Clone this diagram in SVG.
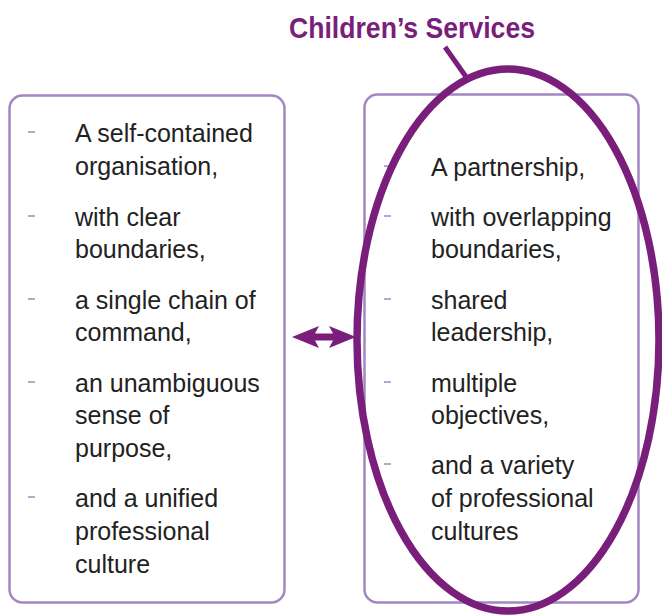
<svg xmlns="http://www.w3.org/2000/svg" width="662" height="615" viewBox="0 0 662 615">
<style>
.box{fill:#fff;stroke:#a386c2;stroke-width:2.5}
.t{font-family:"Liberation Sans",Arial,sans-serif;font-size:25px;fill:#222}
.d{stroke:#a386c2;stroke-width:1.5}
.title{font-family:"Liberation Sans",Arial,sans-serif;font-size:30px;font-weight:bold;fill:#7a1e7c}
</style>
<rect width="662" height="615" fill="#fff"/>
<g id="left">
<rect class="box" x="9.5" y="95.5" width="275" height="507" rx="13"/>
<g class="d"><line x1="28" y1="132" x2="35" y2="132"/><line x1="28" y1="216" x2="35" y2="216"/><line x1="28" y1="299" x2="35" y2="299"/><line x1="28" y1="382" x2="35" y2="382"/><line x1="28" y1="497" x2="35" y2="497"/></g>
<text class="t" x="75" y="142">A self-contained</text>
<text class="t" x="75" y="175">organisation,</text>
<text class="t" x="75" y="226">with clear</text>
<text class="t" x="75" y="258">boundaries,</text>
<text class="t" x="75" y="309">a single chain of</text>
<text class="t" x="75" y="341">command,</text>
<text class="t" x="75" y="392">an unambiguous</text>
<text class="t" x="75" y="424">sense of</text>
<text class="t" x="75" y="457">purpose,</text>
<text class="t" x="75" y="507">and a unified</text>
<text class="t" x="75" y="540">professional</text>
<text class="t" x="75" y="573">culture</text>
</g>
<g id="right">
<rect class="box" x="364.5" y="94.5" width="274" height="508" rx="13"/>
<g class="d"><line x1="384" y1="166" x2="391" y2="166"/><line x1="384" y1="216" x2="391" y2="216"/><line x1="384" y1="299" x2="391" y2="299"/><line x1="384" y1="382" x2="391" y2="382"/><line x1="384" y1="464" x2="391" y2="464"/></g>
<text class="t" x="431" y="176">A partnership,</text>
<text class="t" x="431" y="226">with overlapping</text>
<text class="t" x="431" y="258">boundaries,</text>
<text class="t" x="431" y="309">shared</text>
<text class="t" x="431" y="341">leadership,</text>
<text class="t" x="431" y="392">multiple</text>
<text class="t" x="431" y="424">objectives,</text>
<text class="t" x="431" y="474">and a variety</text>
<text class="t" x="431" y="507">of professional</text>
<text class="t" x="431" y="540">cultures</text>
</g>
<g id="childrens-services">
<ellipse cx="508" cy="340" rx="151" ry="271" fill="none" stroke="#7a1e7c" stroke-width="7.5"/>
<line x1="445" y1="47" x2="469" y2="81" stroke="#7a1e7c" stroke-width="5"/>
<text class="title" x="289" y="38" textLength="246" lengthAdjust="spacingAndGlyphs">Children’s Services</text>
</g>
<g id="connectors">
<polygon fill="#7a1e7c" points="292,337 319,326 315,333.5 333,333.5 329,326 356,337 329,348 333,340.5 315,340.5 319,348"/>
</g>
</svg>
